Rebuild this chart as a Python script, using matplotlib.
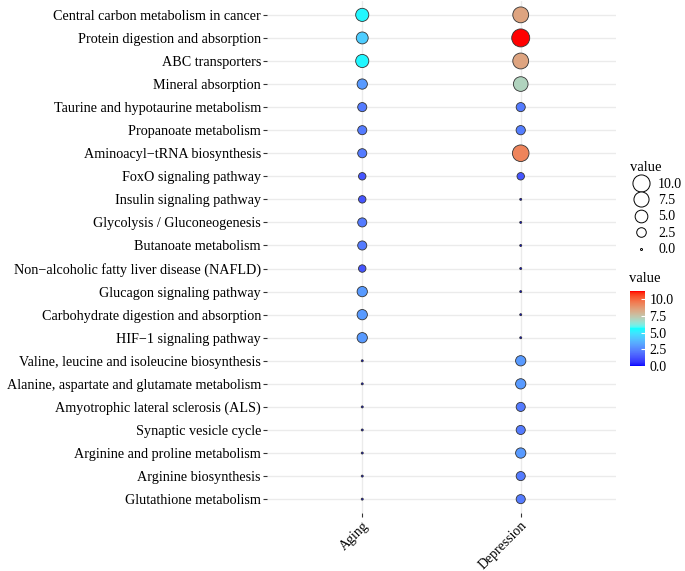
import matplotlib.pyplot as plt
from matplotlib.colors import ListedColormap, Normalize
from matplotlib.lines import Line2D
import numpy as np

plt.rcParams["font.family"] = ["Liberation Serif", "DejaVu Serif"]

# ---------- data ----------
pathways = [
    "Central carbon metabolism in cancer",
    "Protein digestion and absorption",
    "ABC transporters",
    "Mineral absorption",
    "Taurine and hypotaurine metabolism",
    "Propanoate metabolism",
    "Aminoacyl\u2212tRNA biosynthesis",
    "FoxO signaling pathway",
    "Insulin signaling pathway",
    "Glycolysis / Gluconeogenesis",
    "Butanoate metabolism",
    "Non\u2212alcoholic fatty liver disease (NAFLD)",
    "Glucagon signaling pathway",
    "Carbohydrate digestion and absorption",
    "HIF\u22121 signaling pathway",
    "Valine, leucine and isoleucine biosynthesis",
    "Alanine, aspartate and glutamate metabolism",
    "Amyotrophic lateral sclerosis (ALS)",
    "Synaptic vesicle cycle",
    "Arginine and proline metabolism",
    "Arginine biosynthesis",
    "Glutathione metabolism",
]
groups = ["Aging", "Depression"]
aging = [5.4, 4.3, 5.4, 3.0, 2.2, 2.2, 2.2, 1.3, 1.3, 2.2, 2.2, 1.3, 3.0, 3.0, 3.0,
         0, 0, 0, 0, 0, 0, 0]
depression = [8.4, 11.2, 8.4, 7.0, 2.2, 2.3, 9.3, 1.3, 0, 0, 0, 0, 0, 0, 0,
              3.0, 3.0, 2.2, 2.2, 3.0, 2.2, 2.2]
legend_values = [10.0, 7.5, 5.0, 2.5, 0.0]

vmax = max(max(aging), max(depression))


# ---------- blue -> cyan -> red, interpolated in Lab like ggplot ----------
def srgb_to_lab(rgb):
    c = np.asarray(rgb, float)
    c = np.where(c > 0.04045, ((c + 0.055) / 1.055) ** 2.4, c / 12.92)
    m = np.array([[0.4124, 0.3576, 0.1805],
                  [0.2126, 0.7152, 0.0722],
                  [0.0193, 0.1192, 0.9505]])
    xyz = m @ c / np.array([0.95047, 1.0, 1.08883])
    f = np.where(xyz > 0.008856, np.cbrt(xyz), 7.787 * xyz + 16 / 116)
    return np.array([116 * f[1] - 16, 500 * (f[0] - f[1]), 200 * (f[1] - f[2])])


def lab_to_srgb(lab):
    L, a, b = lab
    fy = (L + 16) / 116
    f = np.array([fy + a / 500, fy, fy - b / 200])
    xyz = np.where(f ** 3 > 0.008856, f ** 3, (f - 16 / 116) / 7.787)
    xyz = xyz * np.array([0.95047, 1.0, 1.08883])
    m = np.array([[3.2406, -1.5372, -0.4986],
                  [-0.9689, 1.8758, 0.0415],
                  [0.0557, -0.2040, 1.0570]])
    c = m @ xyz
    c = np.where(c > 0.0031308, 1.055 * np.clip(c, 0, None) ** (1 / 2.4) - 0.055, 12.92 * c)
    return np.clip(c, 0, 1)


anchors = [srgb_to_lab(c) for c in [(0, 0, 1), (0, 1, 1), (1, 0, 0)]]
cols = []
for t in np.linspace(0, 1, 256):
    seg = min(int(t * 2), 1)
    u = t * 2 - seg
    cols.append(lab_to_srgb((1 - u) * anchors[seg] + u * anchors[seg + 1]))
cmap = ListedColormap(cols)
norm = Normalize(0, vmax)


def diam_px(v):
    # ggplot-like area scale: diameter range 2..18 px
    return 2 + 16 * np.sqrt(np.asarray(v) / vmax)


def size_pt2(v):
    return (diam_px(v) * 0.72) ** 2


fig = plt.figure(figsize=(6.85, 5.71), dpi=100)
ax = fig.add_axes([0.390, 0.1016, 0.509, 0.8966])

n = len(pathways)
ypos = np.arange(n)[::-1] + 1
for gi, vals in enumerate([aging, depression]):
    vals = np.array(vals)
    ax.scatter(np.full(n, gi + 1), ypos, s=size_pt2(vals), c=vals, cmap=cmap,
               norm=norm, edgecolors="#333333", linewidths=0.6, zorder=3)

ax.set_xlim(0.4, 2.6)
ax.set_ylim(0.4, n + 0.6)
ax.set_xticks([1, 2])
ax.set_xticklabels(groups, rotation=45, ha="right", va="top",
                   rotation_mode="anchor", fontsize=10)
ax.set_yticks(ypos)
ax.set_yticklabels(pathways, fontsize=10.2)
ax.grid(True, color="#ebebeb", linewidth=1.0, zorder=0)
ax.set_axisbelow(True)
for s in ax.spines.values():
    s.set_visible(False)
ax.tick_params(axis="both", length=3, color="#333333", width=0.8, pad=1.5)

# ---------- size legend ----------
handles = [Line2D([], [], linestyle="none", marker="o", markerfacecolor="white",
                  markeredgecolor="black", markeredgewidth=0.7,
                  markersize=diam_px(v) * 0.72) for v in legend_values]
leg = fig.legend(handles, [f"{v:.1f}" for v in legend_values], title="value",
                 loc="upper left", bbox_to_anchor=(0.906, 0.735), frameon=False,
                 fontsize=10, title_fontsize=10.5, labelspacing=0.25,
                 handletextpad=0.4, borderpad=0.2, handlelength=1.6)
leg._legend_box.align = "left"

# ---------- colour bar ----------
cax = fig.add_axes([0.920, 0.359, 0.022, 0.131])
cb = fig.colorbar(plt.cm.ScalarMappable(norm=norm, cmap=cmap), cax=cax,
                  ticks=[0, 2.5, 5, 7.5, 10])
cb.ax.set_yticklabels(["0.0", "2.5", "5.0", "7.5", "10.0"], fontsize=10)
cb.outline.set_visible(False)
cb.ax.tick_params(length=3, color="white", width=0.8, direction="in", pad=3)
fig.text(0.918, 0.50, "value", fontsize=10.5, ha="left", va="bottom")

fig.savefig("out.png", dpi=100)
